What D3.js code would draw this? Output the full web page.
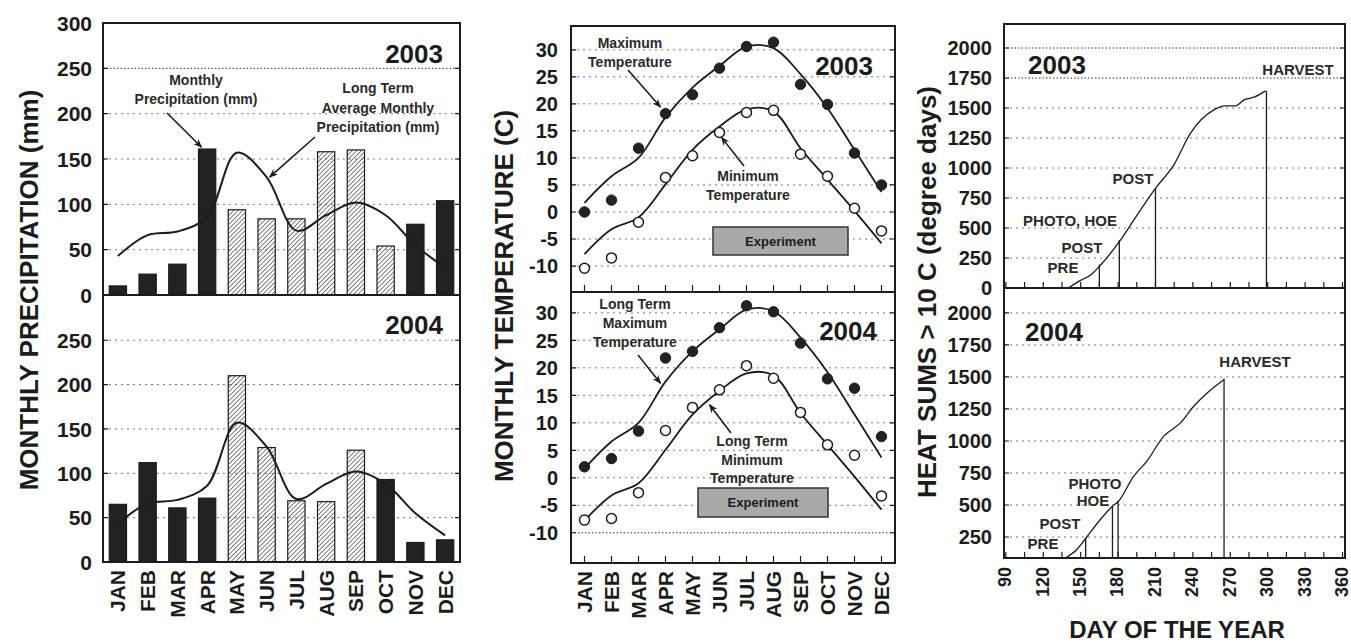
<!DOCTYPE html>
<html>
<head>
<meta charset="utf-8">
<script src="https://cdn.jsdelivr.net/npm/d3@7"></script>
<style>
  body { margin: 0; background: #fff; }
  text { font-family: "Liberation Sans", Arial, sans-serif; font-weight: bold; fill: #1c1c1c; }
</style>
</head>
<body>
<div id="chart"></div>
<script>
// ---- data ----
const months = ["JAN","FEB","MAR","APR","MAY","JUN","JUL","AUG","SEP","OCT","NOV","DEC"];
const rain2003 = [10, 23, 34, 161, 94, 84, 84, 158, 160, 54, 78, 104];
const rain2004 = [65, 112, 61, 72, 210, 129, 69, 68, 126, 93, 22, 25];
const rainLongTerm = [43, 66, 70, 86, 157, 130, 71, 88, 102, 88, 55, 30];
const season2003 = ["MAY","JUN","JUL","AUG","SEP","OCT"];
const season2004 = ["MAY","JUN","JUL","AUG","SEP"];

const tmax2003 = [0, 2.2, 11.8, 18.2, 21.7, 26.6, 30.6, 31.4, 23.6, 19.9, 10.9, 5.0];
const tmin2003 = [-10.4, -8.5, -1.9, 6.4, 10.4, 14.7, 18.4, 18.8, 10.7, 6.6, 0.7, -3.5];
const tmax2004 = [2.0, 3.5, 8.5, 21.8, 23.0, 27.3, 31.3, 30.2, 24.5, 18.0, 16.3, 7.5];
const tmin2004 = [-7.7, -7.4, -2.7, 8.6, 12.8, 16.0, 20.4, 18.1, 11.9, 6.0, 4.1, -3.3];
const ltMax = [1.7, 6.6, 10, 17.5, 23, 27, 30.6, 30.3, 25.5, 19.2, 11.5, 3.7];
const ltMin = [-7.8, -3.2, -1.0, 5.1, 11.5, 15.8, 19.0, 18.6, 11.8, 6.0, 0.2, -5.8];

const days2003 = [140, 149.5, 159, 165.6, 181.7, 192.4, 209.8, 224.6, 238, 256.8, 266, 274, 281, 289, 298.3];
const heat2003 = [0, 61, 117, 187, 396, 563, 828, 1024, 1289, 1484, 1517, 1517, 1568, 1590, 1643];
const days2004 = [138, 146.8, 154.3, 165.6, 175.5, 180.3, 192.4, 203, 216.5, 230, 240.7, 251.4, 264.8];
const heat2004 = [88, 151, 242, 385, 490, 529, 724, 841, 1036, 1141, 1271, 1375, 1479];
const eventDays2003 = [165, 181, 210, 299];
const eventHeat2003 = [195, 400, 830, 1643];
const eventDays2004 = [154, 175.5, 180, 265];
const eventHeat2004 = [245, 490, 529, 1487];

const width = 1351, height = 644;
const ink = "#1c1c1c";

const svg = d3.select("#chart").append("svg")
  .attr("width", width).attr("height", height);

const defs = svg.append("defs");
defs.append("pattern")
  .attr("id", "hatch").attr("patternUnits", "userSpaceOnUse")
  .attr("width", 3.2).attr("height", 3.2)
  .attr("patternTransform", "rotate(45)")
  .append("line").attr("x1", 0).attr("y1", 0).attr("x2", 0).attr("y2", 3.2)
  .attr("stroke", ink).attr("stroke-width", 1.1);
defs.append("marker")
  .attr("id", "arrow").attr("viewBox", "0 0 10 10")
  .attr("refX", 9).attr("refY", 5)
  .attr("markerWidth", 9).attr("markerHeight", 9)
  .attr("markerUnits", "userSpaceOnUse")
  .attr("orient", "auto")
  .append("path").attr("d", "M0,1 L10,5 L0,9 L3,5 Z").attr("fill", ink);

function grid(g, y, values, x0, x1, dark) {
  g.append("g").selectAll("line").data(values).join("line")
    .attr("x1", x0).attr("x2", x1)
    .attr("y1", d => y(d)).attr("y2", d => y(d))
    .attr("stroke", d => dark && dark.includes(d) ? "#333" : "#777")
    .attr("stroke-width", 1)
    .attr("stroke-dasharray", d => dark && dark.includes(d) ? "1.5,2" : "2,4");
}

function yTicks(g, y, values, x0, x1, labelX, size) {
  g.append("g").selectAll("text").data(values).join("text")
    .attr("x", labelX).attr("y", d => y(d)).attr("dy", "0.36em")
    .attr("text-anchor", "end").attr("font-size", size)
    .text(d => d);
  g.append("g").selectAll("path").data(values).join("path")
    .attr("d", d => `M${x0},${y(d)}h5M${x1},${y(d)}h-5`)
    .attr("stroke", ink).attr("stroke-width", 1.2);
}

function frame(g, x0, y0, x1, y1) {
  g.append("rect").attr("x", x0).attr("y", y0)
    .attr("width", x1 - x0).attr("height", y1 - y0)
    .attr("fill", "none").attr("stroke", ink).attr("stroke-width", 2);
}

function arrow(g, from, to) {
  g.append("line")
    .attr("x1", from[0]).attr("y1", from[1]).attr("x2", to[0]).attr("y2", to[1])
    .attr("stroke", ink).attr("stroke-width", 1.6)
    .attr("marker-end", "url(#arrow)");
}

function note(g, x, y, lines, size, lh) {
  const t = g.append("text").attr("text-anchor", "middle").attr("font-size", size).style("fill", "#2a2a2a");
  lines.forEach((s, i) => t.append("tspan").attr("x", x).attr("y", y + i * lh).text(s));
}

function yLabel(x, y, s) {
  svg.append("text").attr("transform", `translate(${x},${y}) rotate(-90)`)
    .attr("text-anchor", "middle").attr("font-size", 26).text(s);
}

// ================= precipitation =================
const gp = svg.append("g");
const xP = d3.scaleBand().domain(months).range([103, 460]).paddingInner(0.42).paddingOuter(0.21);
const yP03 = d3.scaleLinear().domain([0, 300]).range([295, 23]);
const yP04 = d3.scaleLinear().domain([0, 301]).range([562, 295]);
const xc = m => xP(m) + xP.bandwidth() / 2;

grid(gp, yP03, [50, 100, 150, 200, 250], 103, 460, [250]);
grid(gp, yP04, [50, 100, 150, 200, 250], 103, 460);

function rainBars(y, values, season) {
  gp.append("g").selectAll("rect").data(months).join("rect")
    .attr("x", d => xP(d)).attr("width", xP.bandwidth())
    .attr("y", (d, i) => y(values[i]))
    .attr("height", (d, i) => y(0) - y(values[i]))
    .attr("fill", d => season.includes(d) ? "url(#hatch)" : "#222")
    .attr("stroke", ink).attr("stroke-width", 1.2);
}
const rainLine = y => d3.line().x((d, i) => xc(months[i])).y(d => y(d)).curve(d3.curveCatmullRom.alpha(0.5));
rainBars(yP03, rain2003, season2003);
rainBars(yP04, rain2004, season2004);
gp.append("path").datum(rainLongTerm).attr("d", rainLine(yP03))
  .attr("fill", "none").attr("stroke", ink).attr("stroke-width", 2);
gp.append("path").datum(rainLongTerm).attr("d", rainLine(yP04))
  .attr("fill", "none").attr("stroke", ink).attr("stroke-width", 2);

frame(gp, 103, 23, 460, 562);
gp.append("line").attr("x1", 103).attr("x2", 460).attr("y1", 295).attr("y2", 295)
  .attr("stroke", ink).attr("stroke-width", 2);
yTicks(gp, yP03, [0, 50, 100, 150, 200, 250, 300], 103, 460, 92, 21);
yTicks(gp, yP04, [0, 50, 100, 150, 200, 250], 103, 460, 92, 21);

gp.append("g").selectAll("text").data(months).join("text")
  .attr("transform", d => `translate(${xc(d)},570) rotate(-90)`)
  .attr("dy", "0.36em").attr("text-anchor", "end").attr("font-size", 21)
  .text(d => d);

gp.append("text").attr("x", 443).attr("y", 63).attr("text-anchor", "end").attr("font-size", 26).text("2003");
gp.append("text").attr("x", 443).attr("y", 334).attr("text-anchor", "end").attr("font-size", 26).text("2004");

note(gp, 196, 85, ["Monthly", "Precipitation (mm)"], 14, 19);
note(gp, 378, 93, ["Long Term", "Average Monthly", "Precipitation (mm)"], 14, 19.5);
arrow(gp, [167, 113], [xP("APR") + 3, yP03(163)]);
arrow(gp, [315, 137], [xc("JUN") + 3, yP03(130)]);
yLabel(38, 290, "MONTHLY PRECIPITATION (mm)");

// ================= temperature =================
const gt = svg.append("g");
const xT = d3.scalePoint().domain(months).range([571, 895]).padding(0.5);
const yT1 = d3.scaleLinear().domain([-14.8, 34.4]).range([292, 26]);
const yT2 = d3.scaleLinear().domain([-15.5, 33.8]).range([563, 292]);
const tempTicks = [-10, -5, 0, 5, 10, 15, 20, 25, 30];

grid(gt, yT1, tempTicks, 571, 895);
grid(gt, yT2, tempTicks, 571, 895, [-10]);

function tempPanel(y, tmax, tmin) {
  const line = d3.line().x((d, i) => xT(months[i])).y(d => y(d)).curve(d3.curveCatmullRom.alpha(0.5));
  [ltMax, ltMin].forEach(v => gt.append("path").datum(v).attr("d", line)
    .attr("fill", "none").attr("stroke", ink).attr("stroke-width", 1.8));
  gt.append("g").selectAll("circle").data(tmax).join("circle")
    .attr("cx", (d, i) => xT(months[i])).attr("cy", d => y(d)).attr("r", 5.2)
    .attr("fill", "#222").attr("stroke", ink).attr("stroke-width", 1);
  gt.append("g").selectAll("circle").data(tmin).join("circle")
    .attr("cx", (d, i) => xT(months[i])).attr("cy", d => y(d)).attr("r", 5)
    .attr("fill", "#fff").attr("stroke", ink).attr("stroke-width", 1.5);
}
tempPanel(yT1, tmax2003, tmin2003);
tempPanel(yT2, tmax2004, tmin2004);

frame(gt, 571, 26, 895, 563);
gt.append("line").attr("x1", 571).attr("x2", 895).attr("y1", 292).attr("y2", 292)
  .attr("stroke", ink).attr("stroke-width", 2);
yTicks(gt, yT1, tempTicks, 571, 895, 558, 20);
yTicks(gt, yT2, tempTicks, 571, 895, 558, 20);
[292, 563].forEach(yb => gt.append("g").selectAll("line").data(months).join("line")
  .attr("x1", d => xT(d)).attr("x2", d => xT(d)).attr("y1", yb).attr("y2", yb - 7)
  .attr("stroke", ink).attr("stroke-width", 1.2));

gt.append("g").selectAll("text").data(months).join("text")
  .attr("transform", d => `translate(${xT(d)},571) rotate(-90)`)
  .attr("dy", "0.36em").attr("text-anchor", "end").attr("font-size", 21)
  .text(d => d);

gt.append("text").attr("x", 873).attr("y", 75).attr("text-anchor", "end").attr("font-size", 26).text("2003");
gt.append("text").attr("x", 877).attr("y", 340).attr("text-anchor", "end").attr("font-size", 26).text("2004");

function expBox(x0, y0, w, h) {
  gt.append("rect").attr("x", x0).attr("y", y0).attr("width", w).attr("height", h)
    .attr("fill", "#a9a9a9").attr("stroke", "#333").attr("stroke-width", 1.5);
  gt.append("text").attr("x", x0 + w / 2).attr("y", y0 + h / 2).attr("dy", "0.36em")
    .attr("text-anchor", "middle").attr("font-size", 13).attr("font-weight", "normal").text("Experiment");
}
expBox(713, 227, 135, 28);
expBox(698, 488, 130, 29);

note(gt, 630, 48, ["Maximum", "Temperature"], 14, 19);
note(gt, 748, 181, ["Minimum", "Temperature"], 14, 19);
note(gt, 635, 309, ["Long Term", "Maximum", "Temperature"], 14, 19);
note(gt, 752, 446, ["Long Term", "Minimum", "Temperature"], 14, 18.5);
arrow(gt, [628, 70], [xT("APR") - 5, yT1(19.4)]);
arrow(gt, [744, 166], [xT("JUN") + 2, yT1(13.8)]);
arrow(gt, [638, 355], [xT("APR") - 5, yT2(17.2)]);
arrow(gt, [731, 433], [xT("JUN") - 10, yT2(13.3)]);
yLabel(513, 296, "MONTHLY TEMPERATURE (C)");

// ================= heat sums =================
const gh = svg.append("g");
const xH = d3.scaleLinear().domain([88.5, 362]).range([1004, 1345]);
const yH1 = d3.scaleLinear().domain([0, 2200]).range([288, 24]);
const yH2 = d3.scaleLinear().domain([86, 2187]).range([558, 289]);

grid(gh, yH1, [250, 500, 750, 1000, 1250, 1500, 1750, 2000], 1004, 1345, [1750, 2000]);
grid(gh, yH2, [250, 500, 750, 1000, 1250, 1500, 1750, 2000], 1004, 1345);

function heatPanel(y, days, heat, evDays, evHeat) {
  gh.append("path").datum(days)
    .attr("d", d3.line().x(d => xH(d)).y((d, i) => y(heat[i])).curve(d3.curveMonotoneX))
    .attr("fill", "none").attr("stroke", ink).attr("stroke-width", 1.3);
  gh.append("g").selectAll("line").data(evDays).join("line")
    .attr("x1", d => xH(d)).attr("x2", d => xH(d))
    .attr("y1", y.range()[0]).attr("y2", (d, i) => y(evHeat[i]))
    .attr("stroke", ink).attr("stroke-width", 1.3);
}
heatPanel(yH1, days2003, heat2003, eventDays2003, eventHeat2003);
heatPanel(yH2, days2004, heat2004, eventDays2004, eventHeat2004);

frame(gh, 1004, 24, 1345, 558);
gh.append("line").attr("x1", 1004).attr("x2", 1345).attr("y1", 288).attr("y2", 288)
  .attr("stroke", ink).attr("stroke-width", 2);
yTicks(gh, yH1, [0, 250, 500, 750, 1000, 1250, 1500, 1750, 2000], 1004, 1345, 992, 20);
yTicks(gh, yH2, [250, 500, 750, 1000, 1250, 1500, 1750, 2000], 1004, 1345, 992, 20);
const dayTicks = d3.range(90, 361, 15);
[288, 558].forEach(yb => gh.append("g").selectAll("line").data(dayTicks).join("line")
  .attr("x1", d => xH(d)).attr("x2", d => xH(d)).attr("y1", yb).attr("y2", yb - 6)
  .attr("stroke", ink).attr("stroke-width", 1.2));

gh.append("g").selectAll("text").data(d3.range(90, 361, 30)).join("text")
  .attr("transform", d => `translate(${xH(d)},567) rotate(-90)`)
  .attr("dy", "0.3em").attr("text-anchor", "end").attr("font-size", 18)
  .text(d => d);
gh.append("text").attr("x", 1177).attr("y", 638).attr("text-anchor", "middle")
  .attr("font-size", 24).text("DAY OF THE YEAR");

gh.append("text").attr("x", 1028).attr("y", 74).attr("font-size", 26).text("2003");
gh.append("text").attr("x", 1025).attr("y", 341).attr("font-size", 26).text("2004");

const hLabels = [
  [1063, 273, "PRE"], [1082, 253, "POST"], [1070, 226, "PHOTO, HOE"],
  [1133, 184, "POST"], [1298, 75, "HARVEST"],
  [1043, 549, "PRE"], [1060, 529, "POST"], [1093, 506, "HOE"],
  [1095, 489, "PHOTO"], [1255, 367, "HARVEST"]
];
gh.append("g").selectAll("text").data(hLabels).join("text")
  .attr("x", d => d[0]).attr("y", d => d[1]).attr("text-anchor", "middle")
  .attr("font-size", 15).style("fill", "#2a2a2a").text(d => d[2]);
yLabel(936, 292, "HEAT SUMS  > 10 C (degree days)");
</script>
</body>
</html>
